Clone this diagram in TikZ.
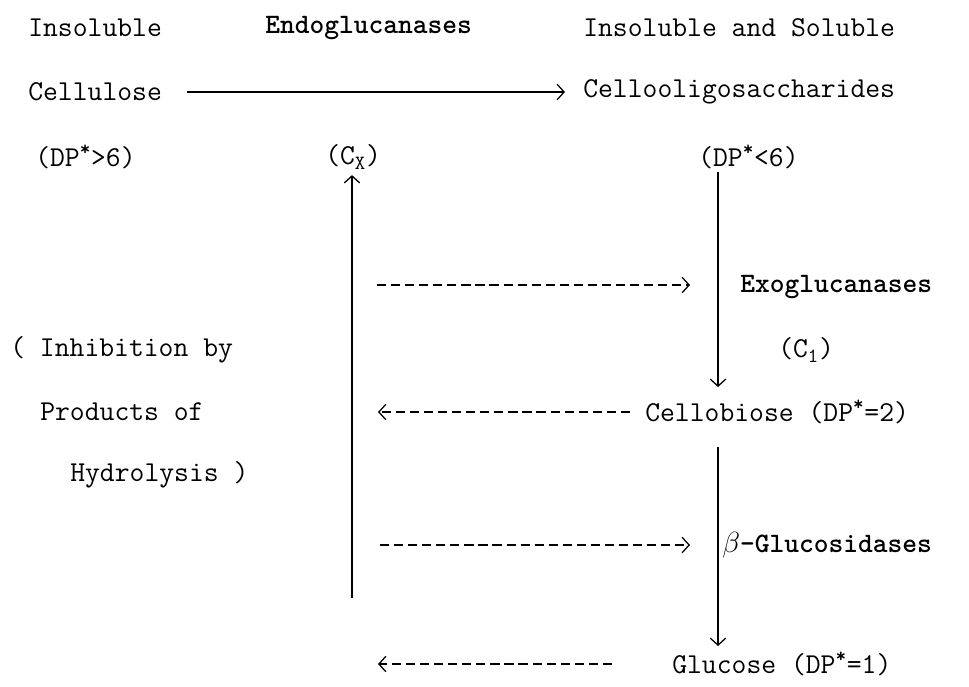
\documentclass[tikz,border=0pt]{standalone}
\usetikzlibrary{positioning, arrows.meta}

\begin{document}
\begin{tikzpicture}[x=0.025cm, y=-0.025cm,
          lbl/.style={font=\fontsize{20.5}{24}\selectfont\ttfamily, inner sep=0pt, anchor=west},
          enz/.style={lbl, font=\fontsize{20}{24}\selectfont\ttfamily\bfseries},
          flow/.style={line width=0.9pt, -{Straight Barb[length=5pt,width=11pt]}},
          back/.style={flow, dash pattern=on 6.5pt off 3.5pt}
        ]
        \useasboundingbox (0,0) rectangle (969,686);
        \newcommand{\dpst}{DP\textsuperscript{\textbf{*}}}
        \node[lbl] (ins) at (28,28) {Insoluble};
        \node[enz] (endo) at (265,28) {Endoglucanases};
        \node[lbl] (insol) at (583,28) {Insoluble and Soluble};
        \node[lbl] (cell) at (28,92) {Cellulose};
        \node[lbl] (cello) at (583,92) {Cellooligosaccharides};
        \node[lbl] (dphi) at (35,157) {(\dpst>6)};
        \node[lbl] (cx) at (325,157) {(C\textsubscript{X})};
        \node[lbl] (dplo) at (698,157) {(\dpst<6)};
        \node[enz] (exo) at (740,287) {Exoglucanases};
        \node[lbl] (cone) at (778,350) {(C\textsubscript{1})};
        \node[lbl] (inh) at (10,350) {( Inhibition by};
        \node[lbl] (prod) at (40,412) {Products of};
        \node[lbl] (hyd) at (70,475) {Hydrolysis )};
        \node[lbl] (cbio) at (645,412) {Cellobiose (\dpst=2)};
        \node[enz] (bglu) at (722,545) {$\beta$-Glucosidases};
        \node[lbl] (glc) at (672,664) {Glucose (\dpst=1)};
        \coordinate (up) at (352,598);
        \coordinate (exa) at (718,172);
        \coordinate (exb) at (718,387);
        \coordinate (bga) at (718,447);
        \coordinate (bgb) at (718,646);
        \coordinate (ra) at (377,285);
        \coordinate (rb) at (690,285);
        \coordinate (la) at (378,412);
        \coordinate (sa) at (380,545);
        \coordinate (sb) at (690,545);
        \coordinate (ga) at (612,664);
        \coordinate (gb) at (378,664);
        \draw[flow] ([xshift=25*0.025cm]cell.east) -- ([xshift=-18*0.025cm]cello.west);
        \draw[flow, shorten >=4pt] (up) -- (up |- cx.south);
        \draw[flow] (exa) -- (exb);
        \draw[flow] (bga) -- (bgb);
        \draw[back] (ra) -- (rb);
        \draw[back, shorten <=15*0.025cm] (cbio.west) -- (la);
        \draw[back] (sa) -- (sb);
        \draw[back] (ga) -- (gb);
      \end{tikzpicture}
\end{document}
